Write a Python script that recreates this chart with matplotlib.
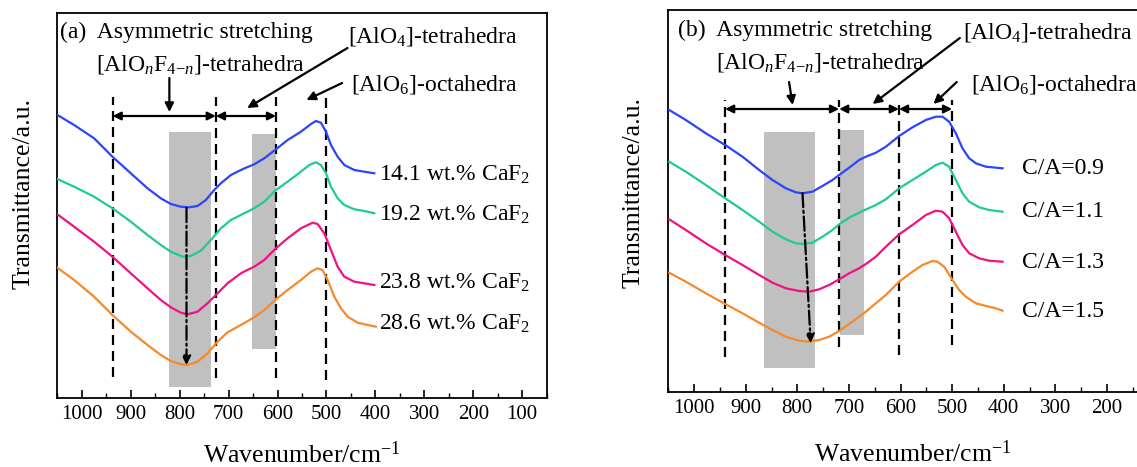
import matplotlib
matplotlib.use("Agg")
import matplotlib.pyplot as plt
from matplotlib.ticker import MultipleLocator
from matplotlib.patches import Rectangle

plt.rcParams['font.family'] = ['Liberation Serif', 'DejaVu Serif']
plt.rcParams['mathtext.fontset'] = 'custom'
plt.rcParams['mathtext.rm'] = 'Liberation Serif'
plt.rcParams['mathtext.it'] = 'Liberation Serif:italic'
plt.rcParams['mathtext.bf'] = 'Liberation Serif:bold'

# ---------------- data: panel (a) ----------------
a_labels = ["14.1 wt.% CaF$_2$", "19.2 wt.% CaF$_2$", "23.8 wt.% CaF$_2$", "28.6 wt.% CaF$_2$"]
a1_x = [1049.8, 1015.7, 974.8, 937.3, 899.8, 865.7, 838.5, 818, 797.6, 780.5, 763.5, 746.4, 729.4, 715.8,
        695.3, 674.9, 664.6, 647.6, 627.1, 603.3, 579.4, 552.2, 531.7, 521.5, 511.3, 501, 490.8, 477.2,
        463.6, 443.1, 422.7, 402.2]
a1_y = [283, 273, 259.7, 241.3, 224.7, 209.7, 199.7, 194, 191.3, 190.7, 192, 198, 208, 214.7,
        223, 228, 230.3, 233.7, 239.7, 248.7, 258, 266.3, 274, 277, 275.3, 266.3, 253, 241.3,
        233, 228, 226.3, 224.7]
a2_x = [1049.8, 1015.7, 974.8, 937.3, 899.8, 865.7, 838.5, 818, 794.2, 777.1, 756.7, 736.2, 715.8, 695.3,
        668.1, 647.6, 627.1, 603.3, 579.4, 552.2, 535.1, 521.5, 511.3, 501, 490.8, 477.2, 463.6, 443.1,
        422.7, 402.2]
a2_y = [219, 211.3, 201.3, 189.7, 176.3, 163, 153, 146.3, 141.3, 142, 147.3, 158, 169.7, 178,
        184.7, 189.7, 196.3, 208, 216.3, 226.3, 233, 235.7, 233, 224.7, 211.3, 199.7, 193, 188.7,
        187, 184.7]
a3_x = [1049.8, 1015.7, 974.8, 937.3, 899.8, 865.7, 838.5, 818, 797.6, 784, 763.5, 743.1, 722.6, 702.2,
        674.9, 664.6, 647.6, 627.1, 603.3, 579.4, 552.2, 528.3, 518.1, 504.5, 490.8, 477.2, 463.6, 443.1,
        422.7, 402.2]
a3_y = [183.7, 171.3, 156.3, 141.3, 124.7, 109.7, 98, 90.7, 85.3, 83.7, 86.3, 94.7, 104.7, 114.7,
        124.7, 127.3, 131.3, 138, 149.7, 159.7, 169.7, 175.3, 174, 164.7, 148, 131.3, 121.3, 116.3,
        114.7, 113]
a4_x = [1049.8, 1015.7, 974.8, 937.3, 899.8, 865.7, 838.5, 818, 797.6, 784, 763.5, 743.1, 722.6, 702.2,
        674.9, 647.6, 627.1, 603.3, 579.4, 552.2, 531.7, 518.1, 507.9, 497.7, 484, 470.4, 456.8, 436.4,
        416, 399]
a4_y = [130.3, 118, 101.3, 83, 66.3, 53, 43, 37, 33.7, 33, 36.3, 44.7, 56.3, 65.7,
        73, 80.7, 88, 98.7, 108, 118, 126.3, 129.7, 128, 118, 101.3, 89.7, 81.3, 75.3,
        73, 71.3]
a_label_y = [223, 183, 114.7, 74]
a_vlines = [937, 726, 603, 501]
a_vline_bottom = [21, 20, 20, 18]
a_bands = [(821, 736, 11, 266), (653, 603, 49, 264)]   # (wn_left, wn_right, y_low, y_high)

# ---------------- data: panel (b) ----------------
b_labels = ["C/A=0.9", "C/A=1.1", "C/A=1.3", "C/A=1.5"]
b1_x = [1048.3, 1016, 977.3, 939.8, 906.2, 873.9, 848.1, 822.2, 802.9, 790, 770.6, 751.2, 731.8, 718.9,
        699.5, 680.1, 667.2, 647.8, 628.4, 602.6, 576.8, 550.9, 531.5, 518.6, 505.7, 492.8, 479.9, 466.9,
        454, 434.6, 402.3]
b1_y = [282, 272, 258.7, 247, 235.3, 222, 212, 203.7, 199.7, 198.7, 200.3, 206, 212, 217,
        224.3, 232, 235.3, 239.3, 245.3, 256, 264.7, 272, 275.3, 275.3, 270.3, 258.7, 243.7, 233.7,
        228.7, 225.3, 223.7]
b2_x = [1048.3, 1016, 977.3, 939.8, 906.2, 873.9, 848.1, 822.2, 802.9, 790, 770.6, 751.2, 731.8, 718.9,
        699.5, 673.7, 647.8, 628.4, 602.6, 576.8, 550.9, 531.5, 518.6, 505.7, 492.8, 479.9, 466.9, 447.6,
        428.2, 402.3]
b2_y = [230.3, 220.3, 207, 193.7, 182, 170.3, 160.3, 152.7, 148.7, 148, 149.3, 155.3, 162, 167.7,
        174.3, 181, 187, 192.7, 203.7, 212, 220.3, 227, 229.3, 225.3, 212, 198.7, 190.3, 184.7,
        182, 180.3]
b3_x = [1048.3, 1016, 977.3, 939.8, 906.2, 873.9, 848.1, 822.2, 796.4, 777, 757.6, 738.3, 718.9, 699.5,
        680.1, 667.2, 647.8, 628.4, 602.6, 576.8, 550.9, 531.5, 518.6, 505.7, 492.8, 479.9, 466.9, 447.6,
        428.2, 402.3]
b3_y = [172.7, 162, 148.7, 137, 127, 117, 109.3, 103.7, 101, 100.3, 102.7, 107, 112.7, 118.7,
        123.7, 128, 135.3, 145.3, 157.7, 167, 177, 181.3, 180.3, 173.7, 160.3, 147, 138.7, 133.7,
        131.3, 130.3]
b4_x = [1048.3, 1016, 977.3, 939.8, 906.2, 873.9, 848.1, 822.2, 796.4, 777, 757.6, 738.3, 718.9, 693,
        667.2, 647.8, 628.4, 602.6, 576.8, 557.4, 538.1, 528.3, 515.4, 499.2, 486.3, 473.4, 454, 434.6,
        415.2, 402.3]
b4_y = [119.3, 110.3, 98.7, 88, 78.7, 69.3, 62, 55.3, 51.3, 50.3, 52, 55.3, 61, 70.3,
        80.3, 88.7, 97, 110.3, 120.3, 127, 131, 130.3, 125.3, 112, 102, 95.3, 88.7, 86,
        83.7, 81.3]
b_label_y = [224, 180.3, 129, 80.3]
b_vlines = [940, 719, 603, 500]
b_vline_bottom = [35, 45, 37, 47]
b_bands = [(864, 766, 24, 260), (718, 671, 57, 262)]

colors = ['#2a44ff', '#1fcc8c', '#f01282', '#f58a2a']
band_color = '#c0c0c0'
FS = 17

fig = plt.figure(figsize=(11.37, 4.67), dpi=100)
axA = fig.add_axes([57.3 / 1137, 69 / 467, 489.4 / 1137, 385 / 467])
axB = fig.add_axes([668.3 / 1137, 75 / 467, 489.7 / 1137, 382 / 467])


def style(ax, xlim, ylim, ylab_x, ylab_y, xlab_y):
    ax.set_xlim(*xlim)
    ax.set_ylim(*ylim)
    ax.set_yticks([])
    ax.xaxis.set_major_locator(MultipleLocator(100))
    ax.xaxis.set_minor_locator(MultipleLocator(50))
    ax.tick_params(axis='x', which='major', direction='in', length=6, width=1.2,
                   labelsize=15, pad=5, top=False)
    ax.tick_params(axis='x', which='minor', direction='in', length=3.5, width=1.0, top=False)
    for s in ax.spines.values():
        s.set_linewidth(1.3)
    ax.set_ylabel("Transmittance/a.u.", fontsize=18.5)
    ax.yaxis.set_label_coords(ylab_x, ylab_y)
    ax.set_xlabel("Wavenumber/cm$^{{-}1}$", fontsize=18.5)
    ax.xaxis.set_label_coords(0.5, xlab_y)


def dash_line(ax, x, y0, y1):
    ax.plot([x, x], [y0, y1], color='k', lw=1.6, dashes=(4.5, 2.7), zorder=2)


def harrow(ax, x0, x1, y):
    ax.annotate('', xy=(x1, y), xytext=(x0, y),
                arrowprops=dict(arrowstyle='<|-|>', color='k', lw=1.6,
                                mutation_scale=12, shrinkA=0, shrinkB=0))


def arrow(ax, x0, y0, x1, y1, ls='-'):
    ax.annotate('', xy=(x1, y1), xytext=(x0, y0),
                arrowprops=dict(arrowstyle='-|>', color='k', lw=1.6, linestyle=ls,
                                mutation_scale=13, shrinkA=0, shrinkB=0))


TET = "[AlO$_{n}$F$_{4{-}n}$]-tetrahedra"

# ---------------- panel (a) ----------------
ax = axA
style(ax, (1050, 50), (0, 385), -0.0456, 0.532, -0.112)
for (l, r, lo, hi) in a_bands:
    ax.add_patch(Rectangle((r, lo), l - r, hi - lo, color=band_color, lw=0, zorder=1))
for xs, ys, c in zip([a1_x, a2_x, a3_x, a4_x], [a1_y, a2_y, a3_y, a4_y], colors):
    ax.plot(xs, ys, color=c, lw=1.6, zorder=3)
for lab, y in zip(a_labels, a_label_y):
    ax.text(392, y, lab, fontsize=FS, ha='left', va='center')
for x, yb in zip(a_vlines, a_vline_bottom):
    dash_line(ax, x, yb, 301)
harrow(ax, a_vlines[0], a_vlines[1], 282)
harrow(ax, a_vlines[1], a_vlines[2], 282)
arrow(ax, 821, 320, 821, 286)
arrow(ax, 457, 350, 662, 290)
arrow(ax, 468, 315, 541, 298)
arrow(ax, 786, 190, 786, 33, ls='-.')
ax.text(1044, 366, "(a)  Asymmetric stretching", fontsize=FS, ha='left', va='center')
ax.text(971, 334, TET, fontsize=FS, ha='left', va='center')
ax.text(455, 362, "[AlO$_4$]-tetrahedra", fontsize=FS, ha='left', va='center')
ax.text(449, 313, "[AlO$_6$]-octahedra", fontsize=FS, ha='left', va='center')

# ---------------- panel (b) ----------------
ax = axB
style(ax, (1050, 101), (0, 382), -0.0476, 0.522, -0.126)
for (l, r, lo, hi) in b_bands:
    ax.add_patch(Rectangle((r, lo), l - r, hi - lo, color=band_color, lw=0, zorder=1))
for xs, ys, c in zip([b1_x, b2_x, b3_x, b4_x], [b1_y, b2_y, b3_y, b4_y], colors):
    ax.plot(xs, ys, color=c, lw=1.6, zorder=3)
for lab, y in zip(b_labels, b_label_y):
    ax.text(365, y, lab, fontsize=FS, ha='left', va='center')
for x, yb in zip(b_vlines, b_vline_bottom):
    dash_line(ax, x, yb, 292)
harrow(ax, b_vlines[0], b_vlines[1], 283)
harrow(ax, b_vlines[1], b_vlines[2], 283)
harrow(ax, b_vlines[2], b_vlines[3], 283)
arrow(ax, 816, 310, 809, 287)
arrow(ax, 485, 354, 654, 288)
arrow(ax, 491, 310, 536, 288)
arrow(ax, 790, 199, 774, 49, ls='-.')
ax.text(1032, 362, "(b)  Asymmetric stretching", fontsize=FS, ha='left', va='center')
ax.text(958, 330, TET, fontsize=FS, ha='left', va='center')
ax.text(479, 359, "[AlO$_4$]-tetrahedra", fontsize=FS, ha='left', va='center')
ax.text(464, 308, "[AlO$_6$]-octahedra", fontsize=FS, ha='left', va='center')

fig.savefig("out.png", dpi=100)
